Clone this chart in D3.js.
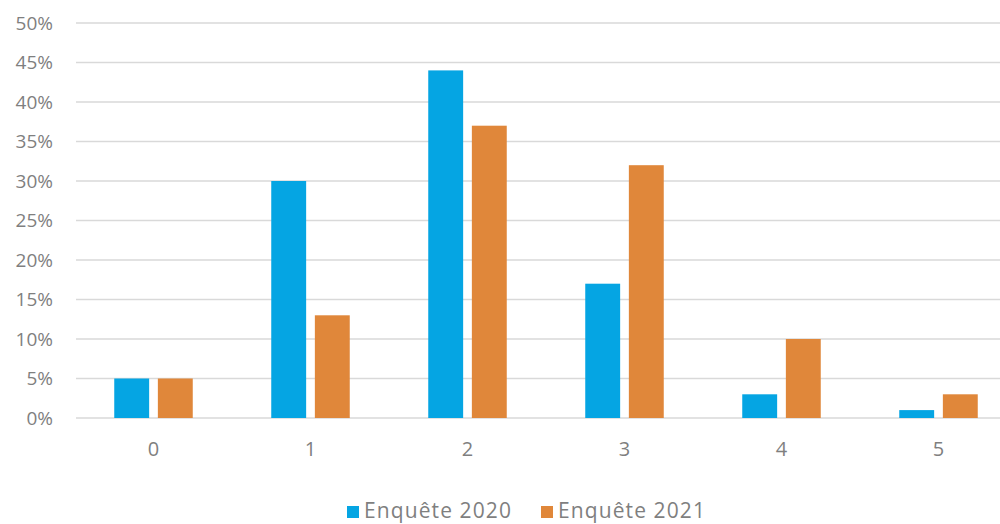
<!DOCTYPE html>
<html>
<head>
<meta charset="utf-8">
<script src="https://cdn.jsdelivr.net/npm/d3@7"></script>
<style>
  body { margin: 0; background: #fff; }
  text { font-family: "Open Sans", sans-serif; fill: #7f7f7f; }
</style>
</head>
<body>
<div class="chart"></div>
<script>
var width = 1000, height = 524;
var margin = ({top: 23, left: 75, bottom: 106});

// data
var categories = ["0", "1", "2", "3", "4", "5"];
var series = ["Enquête 2020", "Enquête 2021"];
var values2020 = [5, 30, 44, 17, 3, 1];
var values2021 = [5, 13, 37, 32, 10, 3];
var yTicks = [0, 5, 10, 15, 20, 25, 30, 35, 40, 45, 50];
var colours = ["#05a5e3", "#e0873a"];

var svg = d3.select(".chart")
  .append("svg")
    .attr("width", width)
    .attr("height", height);

var plotBottom = height - margin.bottom;

const x = d3.scaleBand()
  .domain(categories)
  .range([margin.left, margin.left + 157 * 6])
  .padding(0);

const x1 = d3.scaleBand()
  .domain(series)
  .range([x.bandwidth() * 0.25, x.bandwidth() * 0.75])
  .paddingInner(0.2)
  .paddingOuter(0);

const y = d3.scaleLinear()
  .domain([0, 50])
  .range([plotBottom, margin.top]);

// gridlines
svg.append("g")
  .selectAll("line")
  .data(yTicks)
  .join("line")
    .attr("x1", 76)
    .attr("x2", width)
    .attr("y1", d => y(d))
    .attr("y2", d => y(d))
    .attr("stroke", "#d9d9d9")
    .attr("stroke-width", 1.5);

// y labels
svg.append("g")
  .selectAll("text")
  .data(yTicks)
  .join("text")
    .attr("x", 53)
    .attr("y", d => y(d))
    .attr("dy", "0.36em")
    .attr("text-anchor", "end")
    .style("font-size", "19px")
    .text(d => d + "%");

// x labels
svg.append("g")
  .selectAll("text")
  .data(categories)
  .join("text")
    .attr("x", d => x(d) + x.bandwidth() / 2)
    .attr("y", 456)
    .attr("text-anchor", "middle")
    .style("font-size", "20px")
    .text(d => d);

// bars
var rows = categories.map((c, i) => ({cat: c, vals: [values2020[i], values2021[i]]}));

var groups = svg.append("g")
  .selectAll("g")
  .data(rows)
  .join("g")
    .attr("transform", d => `translate(${x(d.cat)},0)`);

groups.selectAll("rect")
  .data(d => d.vals.map((v, j) => ({s: series[j], v: v, j: j})))
  .join("rect")
    .attr("x", d => x1(d.s))
    .attr("y", d => y(d.v))
    .attr("width", x1.bandwidth())
    .attr("height", d => plotBottom - y(d.v))
    .attr("fill", d => colours[d.j]);

// legend
var legendX = [347, 541];
var legend = svg.append("g")
  .selectAll("g")
  .data(series)
  .join("g")
    .attr("transform", (d, i) => `translate(${legendX[i]},0)`);

legend.append("rect")
  .attr("x", 0)
  .attr("y", 506)
  .attr("width", 12)
  .attr("height", 12)
  .attr("fill", (d, i) => colours[i]);

legend.append("text")
  .attr("x", 17)
  .attr("y", 518)
  .style("font-size", "21px")
  .style("letter-spacing", "1.1px")
  .text(d => d);
</script>
</body>
</html>
